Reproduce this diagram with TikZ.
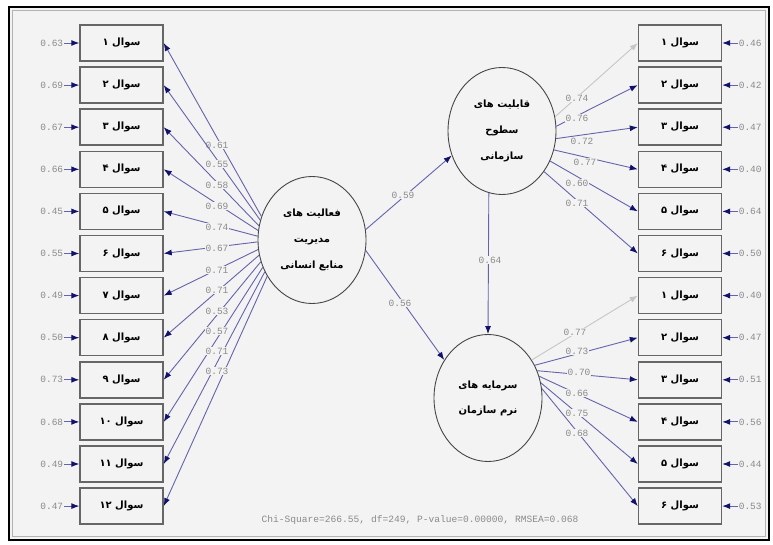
\documentclass[tikz,border=0pt]{standalone}
\usepackage{fontspec}
\usetikzlibrary{arrows.meta,shapes.geometric}
\TeXXeTstate=1
\newfontfamily\arabicfont[Script=Arabic]{DejaVu Sans}
\newfontfamily\numfont{Liberation Mono}

\definecolor{bgpanel}{HTML}{F3F3F3}
\definecolor{pathline}{HTML}{6464AC}
\definecolor{tipnavy}{HTML}{12126A}
\definecolor{numgray}{HTML}{8A8A8A}
\definecolor{fixedline}{HTML}{C6C6C6}
\definecolor{boxedge}{HTML}{666666}

\begin{document}
\begin{tikzpicture}[x=1pt,y=-1pt,
  indicator/.style={rectangle, draw=boxedge, line width=1.4pt, fill=bgpanel,
    minimum width=83pt, minimum height=36pt, inner sep=0pt,
    font=\arabicfont\bfseries\fontsize{10}{12}\selectfont},
  latent/.style={ellipse, draw=gray!55!black, line width=0.9pt, fill=bgpanel,
    minimum width=108pt, minimum height=127pt, inner sep=0pt, align=center,
    font=\arabicfont\bfseries\fontsize{10}{26}\selectfont},
  path/.style={draw=pathline, line width=0.9pt,
    -{Latex[length=8pt,width=6pt,color=tipnavy]}},
  fixedpath/.style={draw=fixedline, line width=0.9pt,
    -{Latex[length=8pt,width=6pt,color=fixedline]}},
  num/.style={font=\numfont\fontsize{9.5}{10}\selectfont, text=numgray, inner sep=0.6pt},
  numbg/.style={num, fill=bgpanel}
]
\useasboundingbox (0,0) rectangle (773,545);
\fill[white] (0,0) rectangle (773,545);
\draw[line width=2.4pt, fill=bgpanel] (9,7) rectangle (769,540);
\draw[gray!60, line width=0.4pt] (12.5,10.5) rectangle (765.5,536.5);

% latent variables
\node[latent] (HRM) at (312,240)
  {\beginR فعالیت های\endR\\\beginR مدیریت\endR\\\beginR منابع انسانی\endR};
\node[latent] (ORG) at (502,131)
  {\beginR قابلیت های\endR\\\beginR سطوح\endR\\\beginR سازمانی\endR};
\node[latent, font=\arabicfont\bfseries\fontsize{10}{25}\selectfont] (SFT) at (488,398)
  {\beginR سرمایه های\endR\\\beginR نرم سازمان\endR};

% left indicators: index/digit/error/start angle/loading/label y
\foreach \i/\d/\err/\ang/\load/\ly in {
  1/۱/0.63/155/0.61/145, 2/۲/0.69/159/0.55/164, 3/۳/0.67/165/0.58/185,
  4/۴/0.66/170/0.69/206, 5/۵/0.45/176/0.74/227, 6/۶/0.55/182/0.67/248,
  7/۷/0.49/190/0.71/270, 8/۸/0.50/196/0.71/290, 9/۹/0.73/203/0.53/311,
  10/{\beginL ۱۰\endL}/0.68/209/0.57/331, 11/{\beginL ۱۱\endL}/0.49/214/0.71/351,
  12/{\beginL ۱۲\endL}/0.47/219/0.73/371} {
  \pgfmathsetmacro\yy{43+(\i-1)*42.1}
  \node[indicator] (L\i) at (121.5,\yy) {\beginR سوال \d\endR};
  \node[num, anchor=east] (eL\i) at (64,\yy) {\err};
  \draw[path] (eL\i.east) -- (L\i.west);
  \draw[path] (HRM.\ang) -- (L\i.east);
  \node[numbg] (kL\i) at (217,\ly) {\load};
}

% right indicators, upper block
\foreach \i/\d/\err/\ang/\load/\lx/\ly in {
  1/۱/0.46/15/0.74/577/98, 2/۲/0.42/5/0.76/577/118, 3/۳/0.47/-8/0.72/582/141,
  4/۴/0.40/-20/0.77/585/162, 5/۵/0.64/-32/0.60/577/183, 6/۶/0.50/-44/0.71/577/203} {
  \pgfmathsetmacro\yy{43+(\i-1)*42.1}
  \node[indicator] (R\i) at (680,\yy) {\beginR سوال \d\endR};
  \node[num, anchor=west] (eR\i) at (738,\yy) {\err};
  \draw[path] (eR\i.west) -- (R\i.east);
  \ifnum\i=1
    \draw[fixedpath] (ORG.\ang) -- (R\i.west);
  \else
    \draw[path] (ORG.\ang) -- (R\i.west);
  \fi
  \node[numbg] (kR\i) at (\lx,\ly) {\load};
}

% right indicators, lower block
\foreach \i/\d/\err/\ang/\load/\lx/\ly in {
  1/۱/0.40/41/0.77/575/332, 2/۲/0.47/35/0.73/577/351, 3/۳/0.51/29/0.70/579/372,
  4/۴/0.56/23/0.66/577/393, 5/۵/0.44/16/0.75/577/413, 6/۶/0.53/10/0.68/577/433} {
  \pgfmathsetmacro\yy{43+(\i+5)*42.1}
  \node[indicator] (S\i) at (680,\yy) {\beginR سوال \d\endR};
  \node[num, anchor=west] (eS\i) at (738,\yy) {\err};
  \draw[path] (eS\i.west) -- (S\i.east);
  \ifnum\i=1
    \draw[fixedpath] (SFT.\ang) -- (S\i.west);
  \else
    \draw[path] (SFT.\ang) -- (S\i.west);
  \fi
  \node[numbg] (kS\i) at (\lx,\ly) {\load};
}

% structural paths
\draw[path] (HRM.11) -- (ORG.206);
\draw[path] (HRM.-11) -- (SFT.139);
\draw[path] (ORG.258) -- (SFT.north);
\node[numbg] (b1) at (403,195) {0.59};
\node[numbg] (b2) at (400,303) {0.56};
\node[numbg] (b3) at (490,260) {0.64};

% fit statistics
\node[num, font=\numfont\fontsize{9.6}{10}\selectfont] (fit) at (420,520)
  {Chi-Square=266.55, df=249, P-value=0.00000, RMSEA=0.068};
\end{tikzpicture}
\end{document}
